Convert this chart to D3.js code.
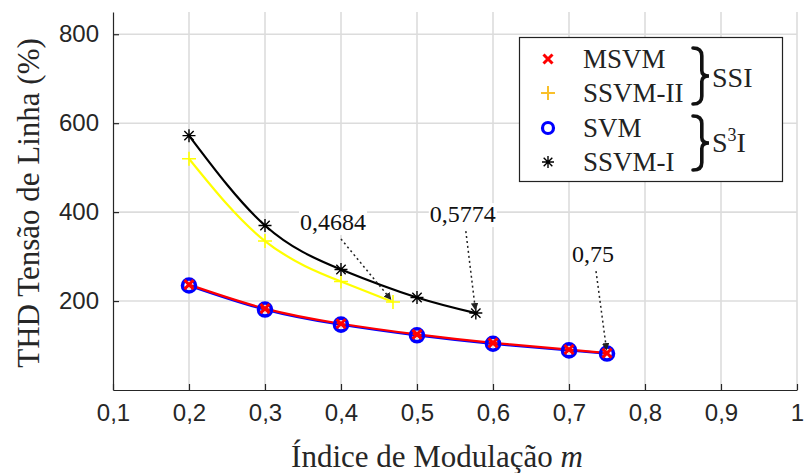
<!DOCTYPE html>
<html>
<head>
<meta charset="utf-8">
<script src="https://cdn.jsdelivr.net/npm/d3@7/dist/d3.min.js"></script>
<style>
  html, body { margin: 0; padding: 0; background: #fff; }
  svg { display: block; }
</style>
</head>
<body>
<script>
// Modulation index ticks and THD ticks
const xTicks = [0.1, 0.2, 0.3, 0.4, 0.5, 0.6, 0.7, 0.8, 0.9, 1];
const yTicks = [200, 400, 600, 800];

// MSVM and SVM (overlapping curves)
const mLinear = [0.2, 0.3, 0.4, 0.5, 0.6, 0.7, 0.75];
const msvm = [237, 183, 149, 125, 106, 91, 83];
const svm = [235, 181, 147, 123, 104, 89, 82];

// SSVM-II (ends at m = 0.4684)
const mSsvm2 = [0.2, 0.3, 0.4, 0.4684];
const ssvm2 = [520, 335, 244, 198];

// SSVM-I (ends at m = 0.5774)
const mSsvm1 = [0.2, 0.3, 0.4, 0.5, 0.5774];
const ssvm1 = [572, 370, 271, 208, 173];

// Limit annotations
const limitLabels = ["0,4684", "0,5774", "0,75"];
const limitM = [0.4684, 0.5774, 0.75];
const limitVal = [198, 173, 83];

const W = 805, H = 473;
const svg = d3.select("body").append("svg").attr("width", W).attr("height", H);

const x = d3.scaleLinear().domain([0.1, 1]).range([113, 797]);
const y = d3.scaleLinear().domain([0, 850]).range([390, 12]);

const serif = "'Liberation Serif', 'Times New Roman', serif";
const sans = "'Liberation Sans', Arial, sans-serif";
const axisCol = "#262626";
const fmt = d => String(d).replace(".", ",");

// grid
const grid = svg.append("g");
grid.selectAll("line.vx").data(xTicks.slice(1)).join("line")
  .attr("x1", d => x(d)).attr("x2", d => x(d))
  .attr("y1", y(850)).attr("y2", y(0))
  .attr("stroke", "#dcdcdc").attr("stroke-width", 1.6);
grid.selectAll("line.hy").data(yTicks).join("line")
  .attr("x1", x(0.1)).attr("x2", x(1))
  .attr("y1", d => y(d)).attr("y2", d => y(d))
  .attr("stroke", "#dcdcdc").attr("stroke-width", 1.6);

// axes
const xAxis = svg.append("g").attr("transform", `translate(0,${y(0)})`)
  .call(d3.axisBottom(x).tickValues(xTicks).tickFormat(fmt).tickSizeInner(-6).tickSizeOuter(0).tickPadding(14));
const yAxis = svg.append("g").attr("transform", `translate(${x(0.1)},0)`)
  .call(d3.axisLeft(y).tickValues(yTicks).tickSizeInner(-6).tickSizeOuter(0).tickPadding(14));
[xAxis, yAxis].forEach(a => {
  a.select(".domain").attr("stroke", axisCol).attr("stroke-width", 1.2);
  a.selectAll(".tick line").attr("stroke", axisCol).attr("stroke-width", 1.2);
  a.selectAll(".tick text").attr("fill", axisCol).attr("font-family", sans).attr("font-size", 24);
});
xAxis.selectAll(".tick text").attr("dy", "0.71em");

// axis titles
svg.append("text").attr("x", 437).attr("y", 467).attr("text-anchor", "middle")
  .attr("font-family", serif).attr("font-size", 31).attr("fill", axisCol)
  .text("Índice de Modulação ")
  .append("tspan").attr("font-style", "italic").text("m");
svg.append("text").attr("transform", "translate(39,203) rotate(-90)").attr("text-anchor", "middle")
  .attr("font-family", serif).attr("font-size", 31).attr("fill", axisCol)
  .text("THD Tensão de Linha (%)");

// curves
const lineGen = d3.line().x(d => x(d[0])).y(d => y(d[1])).curve(d3.curveNatural);
const drawLine = (ms, vs, color, w) => svg.append("path")
  .datum(ms.map((m, i) => [m, vs[i]]))
  .attr("d", lineGen).attr("fill", "none").attr("stroke", color).attr("stroke-width", w);

drawLine(mSsvm2, ssvm2, "#ffff00", 2.2);
drawLine(mSsvm1, ssvm1, "#000000", 2.2);
drawLine(mLinear, svm, "#0000ff", 2.4);
drawLine(mLinear, msvm, "#ff0000", 2.2);

// marker shapes
function cross(g, cx, cy, s, color, w) {
  g.append("path").attr("d", `M${cx - s},${cy - s}L${cx + s},${cy + s}M${cx - s},${cy + s}L${cx + s},${cy - s}`)
    .attr("stroke", color).attr("stroke-width", w).attr("fill", "none");
}
function plus(g, cx, cy, s, color, w) {
  g.append("path").attr("d", `M${cx - s},${cy}L${cx + s},${cy}M${cx},${cy - s}L${cx},${cy + s}`)
    .attr("stroke", color).attr("stroke-width", w).attr("fill", "none");
}
function star(g, cx, cy, s, color, w) {
  const d = s * 0.72;
  g.append("path").attr("d",
    `M${cx - s},${cy}L${cx + s},${cy}M${cx},${cy - s}L${cx},${cy + s}` +
    `M${cx - d},${cy - d}L${cx + d},${cy + d}M${cx - d},${cy + d}L${cx + d},${cy - d}`)
    .attr("stroke", color).attr("stroke-width", w).attr("fill", "none");
}
function ring(g, cx, cy, r, color, w) {
  g.append("circle").attr("cx", cx).attr("cy", cy).attr("r", r)
    .attr("fill", "none").attr("stroke", color).attr("stroke-width", w);
}

const mk = svg.append("g");
mLinear.forEach((m, i) => ring(mk, x(m), y(svm[i]), 6.5, "#0000ff", 3.6));
mLinear.forEach((m, i) => cross(mk, x(m), y(msvm[i]), 4.5, "#ff0000", 3));
mSsvm2.forEach((m, i) => plus(mk, x(m), y(ssvm2[i]), 7, "#ffff00", 1.6));
mSsvm1.forEach((m, i) => star(mk, x(m), y(ssvm1[i]), 6.5, "#000000", 1.4));

// limit annotations with dotted arrows
const offsets = [[-60, -72], [-13, -91], [-14, -91]];
svg.append("defs").append("marker").attr("id", "ah")
  .attr("viewBox", "0 0 10 10").attr("refX", 9).attr("refY", 5)
  .attr("markerWidth", 5).attr("markerHeight", 5).attr("orient", "auto")
  .append("path").attr("d", "M0,0L10,5L0,10Z").attr("fill", "#222");
limitLabels.forEach((lab, i) => {
  const px = x(limitM[i]), py = y(limitVal[i]);
  const tx = px + offsets[i][0], ty = py + offsets[i][1];
  const t = svg.append("text").attr("x", tx).attr("y", ty).attr("text-anchor", "middle")
    .attr("font-family", serif).attr("font-size", 24).attr("fill", "#111").text(lab);
  const bb = t.node().getBBox();
  svg.insert("rect", () => t.node())
    .attr("x", bb.x - 1).attr("y", bb.y + 2).attr("width", bb.width + 2).attr("height", bb.height - 2)
    .attr("fill", "#fff");
  const sx = tx + (i === 0 ? 8 : 3), sy = ty + 9;
  const ex = px - (px - sx) * 0.04, ey = py - (py - sy) * 0.04;
  svg.append("line").attr("x1", sx).attr("y1", sy).attr("x2", ex).attr("y2", ey)
    .attr("stroke", "#222").attr("stroke-width", 1.5).attr("stroke-dasharray", "2,3")
    .attr("marker-end", "url(#ah)");
});

// legend
const lg = svg.append("g");
lg.append("rect").attr("x", 519.5).attr("y", 37.5).attr("width", 263).attr("height", 144)
  .attr("fill", "#fff").attr("stroke", "#222").attr("stroke-width", 1.2);
const legNames = ["MSVM", "SSVM-II", "SVM", "SSVM-I"];
const rowsY = [59, 93, 128, 162];
const mx = 548;
cross(lg, mx, rowsY[0], 4.5, "#ff0000", 3);
plus(lg, mx, rowsY[1], 7, "#f9c02a", 2);
ring(lg, mx, rowsY[2], 5.5, "#0000ff", 3.2);
star(lg, mx, rowsY[3], 6, "#000000", 1.4);
legNames.forEach((n, i) => lg.append("text").attr("x", 583).attr("y", rowsY[i] + 9)
  .attr("font-family", serif).attr("font-size", 27).attr("fill", "#222").text(n));

// group braces
function brace(g, x0, y0, y1, w) {
  const h = y1 - y0, ym = (y0 + y1) / 2, xm = x0 + w * 0.55;
  g.append("path").attr("d",
    `M${x0},${y0} Q${xm},${y0} ${xm},${y0 + h * 0.14} L${xm},${ym - h * 0.1} Q${xm},${ym} ${x0 + w},${ym}` +
    ` Q${xm},${ym} ${xm},${ym + h * 0.1} L${xm},${y1 - h * 0.14} Q${xm},${y1} ${x0},${y1}`)
    .attr("fill", "none").attr("stroke", "#111").attr("stroke-width", 3.6).attr("stroke-linecap", "round");
}
brace(lg, 693, 48, 104, 16);
brace(lg, 693, 116, 170, 16);
lg.append("text").attr("x", 712).attr("y", 87).attr("font-family", serif).attr("font-size", 28)
  .attr("fill", "#222").text("SSI");
const s3 = lg.append("text").attr("x", 712).attr("y", 152).attr("font-family", serif)
  .attr("font-size", 28).attr("fill", "#222");
s3.append("tspan").text("S");
s3.append("tspan").attr("font-size", 18).attr("dy", -11).text("3");
s3.append("tspan").attr("dy", 11).text("I");
</script>
</body>
</html>
